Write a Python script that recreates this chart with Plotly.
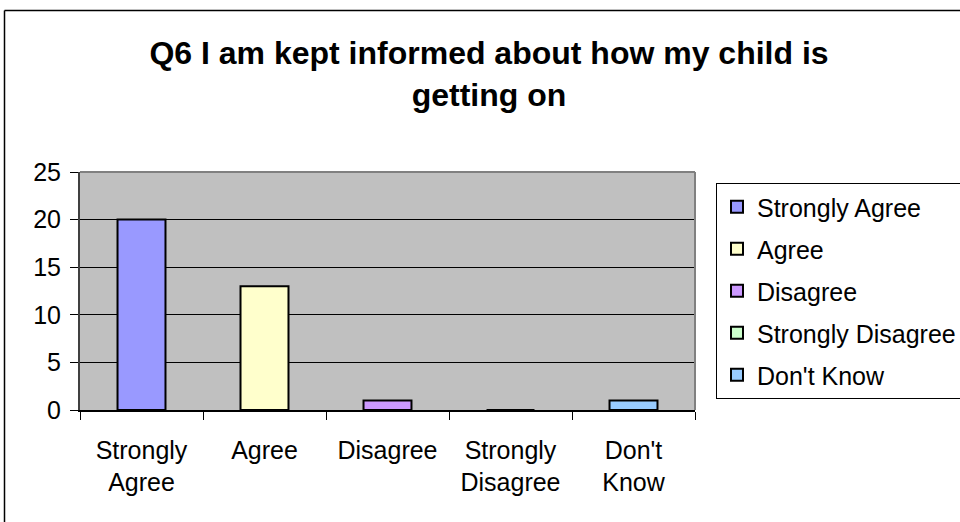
import plotly.graph_objects as go

categories = ["Strongly Agree", "Agree", "Disagree", "Strongly Disagree", "Don't Know"]
tick_labels = ["Strongly<br>Agree", "Agree", "Disagree", "Strongly<br>Disagree", "Don't<br>Know"]
values = [20, 13, 1, 0, 1]
colors = ["#9999FF", "#FFFFCC", "#CC99FF", "#CCFFCC", "#99CCFF"]
y_ticks = [0, 5, 10, 15, 20, 25]

FONT = "Liberation Sans, Arial, sans-serif"

W, H = 960, 522
L, R, T, B = 80, 695, 172, 410
pw, ph = R - L, B - T

def px(x):
    return (x - L) / pw

def py(y):
    return (B - y) / ph

fig = go.Figure()
for i, (cat, val, col) in enumerate(zip(categories, values, colors)):
    fig.add_trace(go.Bar(
        x=[cat], y=[val], name=cat,
        marker=dict(color=col, line=dict(color="black", width=2)),
        width=0.39, legendgroup=f"g{i}",
    ))

shapes = [
    # outer chart border
    dict(type="line", xref="paper", yref="paper", x0=px(4.5), x1=px(965), y0=py(10.5), y1=py(10.5),
         line=dict(color="black", width=1.5)),
    dict(type="line", xref="paper", yref="paper", x0=px(4.5), x1=px(4.5), y0=py(10.5), y1=py(530),
         line=dict(color="black", width=1.5)),
    # plot area border (top, right)
    dict(type="line", xref="paper", yref="paper", x0=0, x1=1, y0=1, y1=1,
         line=dict(color="#808080", width=2), layer="above"),
    dict(type="line", xref="paper", yref="paper", x0=1, x1=1, y0=0, y1=1,
         line=dict(color="#808080", width=2), layer="above"),
]

fig.update_layout(
    width=W, height=H,
    margin=dict(l=L, r=W - R, t=T, b=H - B, pad=0, autoexpand=False),
    paper_bgcolor="white",
    plot_bgcolor="#C0C0C0",
    barmode="overlay",
    font=dict(family=FONT, size=25, color="black"),
    title=dict(
        text="<b>Q6 I am kept informed about how my child is<br>getting on</b>",
        x=489 / W, xanchor="center", xref="container",
        y=1 - 64 / H, yanchor="top", yref="container",
        font=dict(family=FONT, size=32, color="black"),
    ),
    showlegend=True,
    legend=dict(
        x=px(716), xanchor="left", y=py(183), yanchor="top",
        bgcolor="white", bordercolor="black", borderwidth=1,
        font=dict(family=FONT, size=25, color="black"),
        tracegroupgap=6.5, itemclick=False,
    ),
    shapes=shapes,
)

fig.update_xaxes(
    type="category", categoryorder="array", categoryarray=categories,
    tickvals=categories, ticktext=tick_labels,
    tickson="boundaries", ticks="outside", ticklen=8, tickcolor="black", tickwidth=1,
    showline=True, linecolor="black", linewidth=1.5, showgrid=False,
    ticklabelstandoff=17, automargin=False,
)
fig.update_yaxes(
    range=[0, 25], tickvals=y_ticks, ticks="outside", ticklen=8, tickcolor="black",
    showgrid=True, gridcolor="black", gridwidth=1, zeroline=False,
    showline=True, linecolor="#404040", linewidth=2,
    ticklabelstandoff=4, automargin=False,
)

fig.write_html("out.html", config={"displayModeBar": False},
               post_script="document.body.style.margin='0';")
